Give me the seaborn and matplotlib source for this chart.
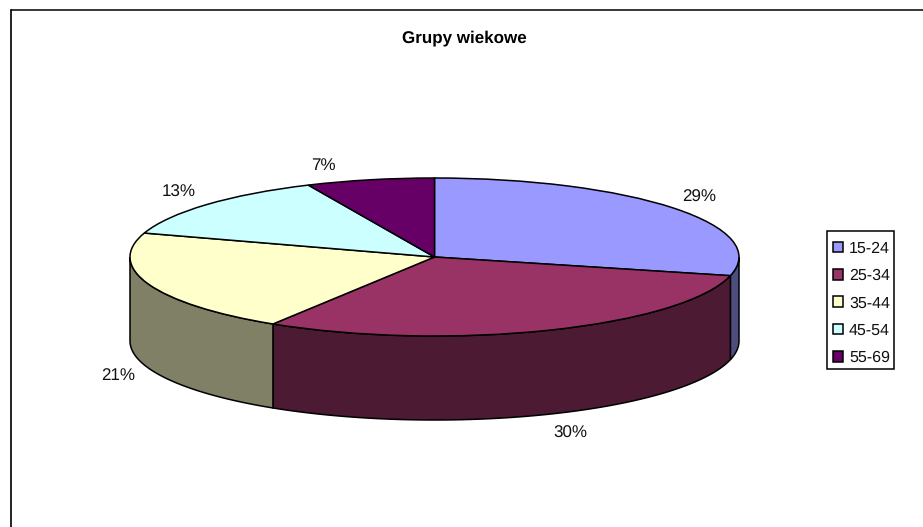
import numpy as np
import matplotlib
matplotlib.use("Agg")
import matplotlib.pyplot as plt
from matplotlib.lines import Line2D
from matplotlib.patches import Rectangle
import seaborn as sns

# data
age_groups = ['15-24', '25-34', '35-44', '45-54', '55-69']
shares = [28.8, 30.1, 21.0, 13.3, 6.8]
colors = ['#9999FF', '#993366', '#FFFFCC', '#CCFFFF', '#660066']

W, H = 923, 527
CX, CY, RX, RY = 434.5, 257, 304.5, 79
DEPTH = 84 / RY

sns.set_theme(style="white")
plt.rcParams['font.family'] = ['Liberation Sans', 'DejaVu Sans']
plt.rcParams['text.hinting'] = 'none'
plt.rcParams['text.hinting_factor'] = 1
palette = sns.color_palette(colors)

fig = plt.figure(figsize=(W / 100, H / 100), dpi=100, facecolor='white')
ax = fig.add_axes([0, 0, 1, 1])


def px(x, y):
    # pixel position in the picture -> data coords of the unit pie
    return (x - CX) / RX, (CY - y) / RY


# top face, squashed into an ellipse by the axes limits
wedges, _ = ax.pie(
    shares, colors=palette, startangle=90, counterclock=False, radius=1,
    wedgeprops={'edgecolor': 'black', 'linewidth': 1.1, 'zorder': 3},
)
ax.set_aspect('auto')
ax.set_xlim(-CX / RX, (W - CX) / RX)
ax.set_ylim((CY - H) / RY, CY / RY)
ax.axis('off')

# side wall: only the front half of every slice can be seen
edges = 90 - 3.6 * np.cumsum([0] + shares) / (sum(shares) / 100)
for start, end, col in zip(edges[:-1], edges[1:], palette):
    lo, hi = max(end, -180), min(start, 0)
    if lo >= hi:
        continue
    t = np.radians(np.linspace(hi, lo, 80))
    x, y = np.cos(t), np.sin(t)
    ax.fill(np.r_[x, x[::-1]], np.r_[y, y[::-1] - DEPTH],
            facecolor=[c * 0.5 for c in col], edgecolor='black', linewidth=1.1, zorder=2)

# percent labels
label_pos = [(699.5, 197), (570, 433), (118.5, 376), (178.5, 192), (323, 166)]
for val, (lx, ly) in zip(shares, label_pos):
    ax.text(*px(lx, ly), f'{val:.0f}%', ha='center', va='center', fontsize=12.1, color='#111111')

ax.text(*px(464, 38), 'Grupy wiekowe', ha='center', va='center',
        fontsize=12.1, fontweight='bold', color='black')

# legend frame is drawn apart, its padding differs per side in the reference
fig.add_artist(Rectangle((826.5 / W, 1 - 368.5 / H), 67 / W, 137 / H, transform=fig.transFigure,
                         facecolor='white', edgecolor='black', linewidth=1.1))
leg = ax.legend(
    wedges, age_groups, loc='upper left',
    bbox_to_anchor=(833 / W, 1 - 241 / H), bbox_transform=fig.transFigure,
    fontsize=11.8, frameon=False,
    handlelength=0.62, handleheight=0.62, handletextpad=0.36,
    labelspacing=0.76, borderpad=0, borderaxespad=0,
)
leg.set_zorder(5)
fig.add_artist(leg)
for t in leg.get_texts():
    t.set_color('#111111')

# chart area border, the picture only shows top and left
fig.add_artist(Line2D([10.5 / W, 10.5 / W], [0, 1 - 9.5 / H], color='#222222', linewidth=1.4))
fig.add_artist(Line2D([10.5 / W, 1], [1 - 9.5 / H, 1 - 9.5 / H], color='black', linewidth=1.1))

plt.savefig('out.png', dpi=100)
